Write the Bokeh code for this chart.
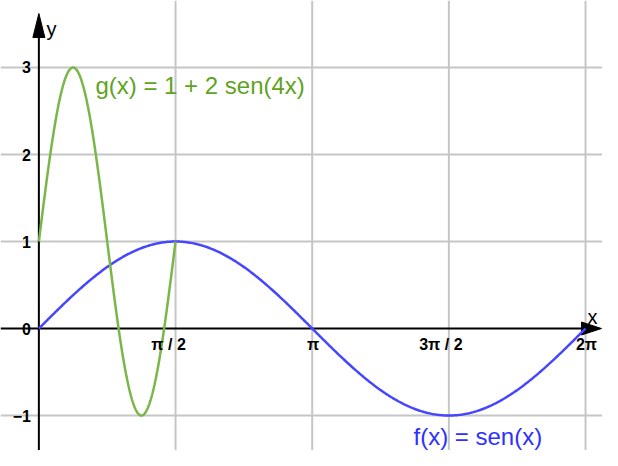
import numpy as np
from bokeh.plotting import figure
from bokeh.models import Range1d, ColumnDataSource
from bokeh.core.properties import value
from bokeh.embed import file_html
from bokeh.resources import INLINE

# ---- data ----
x_tick_values = [np.pi / 2, np.pi, 3 * np.pi / 2, 2 * np.pi]
x_tick_labels = ["π / 2", "π", "3π / 2", "2π"]
y_tick_values = [-1, 0, 1, 2, 3]
y_tick_labels = ["−1", "0", "1", "2", "3"]
grid_y = [-1, 1, 2, 3]

f_label = "f(x) = sen(x)"
g_label = "g(x) = 1 + 2 sen(4x)"

f_x = np.linspace(0, 2 * np.pi, 400)
f_y = np.sin(f_x)              # f(x) = sen(x), as labelled on the chart
g_x = np.linspace(0, np.pi / 2, 300)
g_y = 1 + 2 * np.sin(4 * g_x)  # g(x) = 1 + 2 sen(4x), as labelled on the chart

# ---- figure ----
W, H = 602, 450
PX = 87.0  # pixels per unit (both axes)
X0, X1 = -0.441, 6.478
Y0, Y1 = -1.402, 3.770
p = figure(width=W, height=H, output_backend="svg", toolbar_location=None,
           x_range=Range1d(X0, X1), y_range=Range1d(Y0, Y1),
           min_border=0, outline_line_color=None)
p.axis.visible = False
p.grid.visible = False
p.background_fill_color = "white"

grid_col = "#c6c6c6"
for gx in x_tick_values:
    p.line([gx, gx], [Y0, Y1], line_color=grid_col, line_width=2)
for gy in grid_y:
    p.line([X0, X1], [gy, gy], line_color=grid_col, line_width=2)

# axes through origin
x_tip = X1 - 1.0 / PX
y_tip = Y1 - 13.0 / PX
p.line([X0, x_tip - 18 / PX], [0, 0], line_color="black", line_width=2)
p.line([0, 0], [Y0, y_tip - 22 / PX], line_color="black", line_width=2)
# arrowheads
p.patch([x_tip, x_tip - 20 / PX, x_tip - 20 / PX], [0, 6.5 / PX, -6.5 / PX],
        fill_color="black", line_color="black", line_width=1)
p.patch([0, -6 / PX, 6 / PX], [y_tip, y_tip - 24 / PX, y_tip - 24 / PX],
        fill_color="black", line_color="black", line_width=1)
p.text([0.087], [3.437], text=["y"], text_font=value("Liberation Sans"),
       text_font_size="20px", text_color="black", text_baseline="middle")
p.text([x_tip - 9 / PX], [12 / PX], text=["x"], text_font=value("Liberation Sans"),
       text_font_size="20px", text_color="black", text_baseline="middle",
       text_align="center")

# curves
p.line(f_x, f_y, line_color="#4646ff", line_width=2.5)
p.line(g_x, g_y, line_color="#7ab648", line_width=2.5)

# tick labels
xsrc = ColumnDataSource(dict(x=x_tick_values, y=[0] * 4, t=x_tick_labels,
                             dx=[-7, 1, -8, 1]))
p.text(x="x", y="y", text="t", source=xsrc, x_offset="dx", y_offset=16,
       text_font=value("Liberation Sans"), text_font_style="bold",
       text_font_size="16px", text_color="black", text_align="center",
       text_baseline="middle")
ysrc = ColumnDataSource(dict(x=[0] * 5, y=y_tick_values, t=y_tick_labels))
p.text(x="x", y="y", text="t", source=ysrc, x_offset=-8,
       text_font=value("Liberation Sans"), text_font_style="bold",
       text_font_size="16px", text_color="black", text_align="right",
       text_baseline="middle")

# function labels
p.text([0.65], [2.793], text=[g_label], text_font=value("Liberation Sans"),
       text_font_size="24px", text_color="#5fa322", text_baseline="middle")
p.text([4.306], [-1.241], text=[f_label], text_font=value("Liberation Sans"),
       text_font_size="24px", text_color="#3030ff", text_baseline="middle")

open("out.html", "w").write(file_html(p, INLINE))
